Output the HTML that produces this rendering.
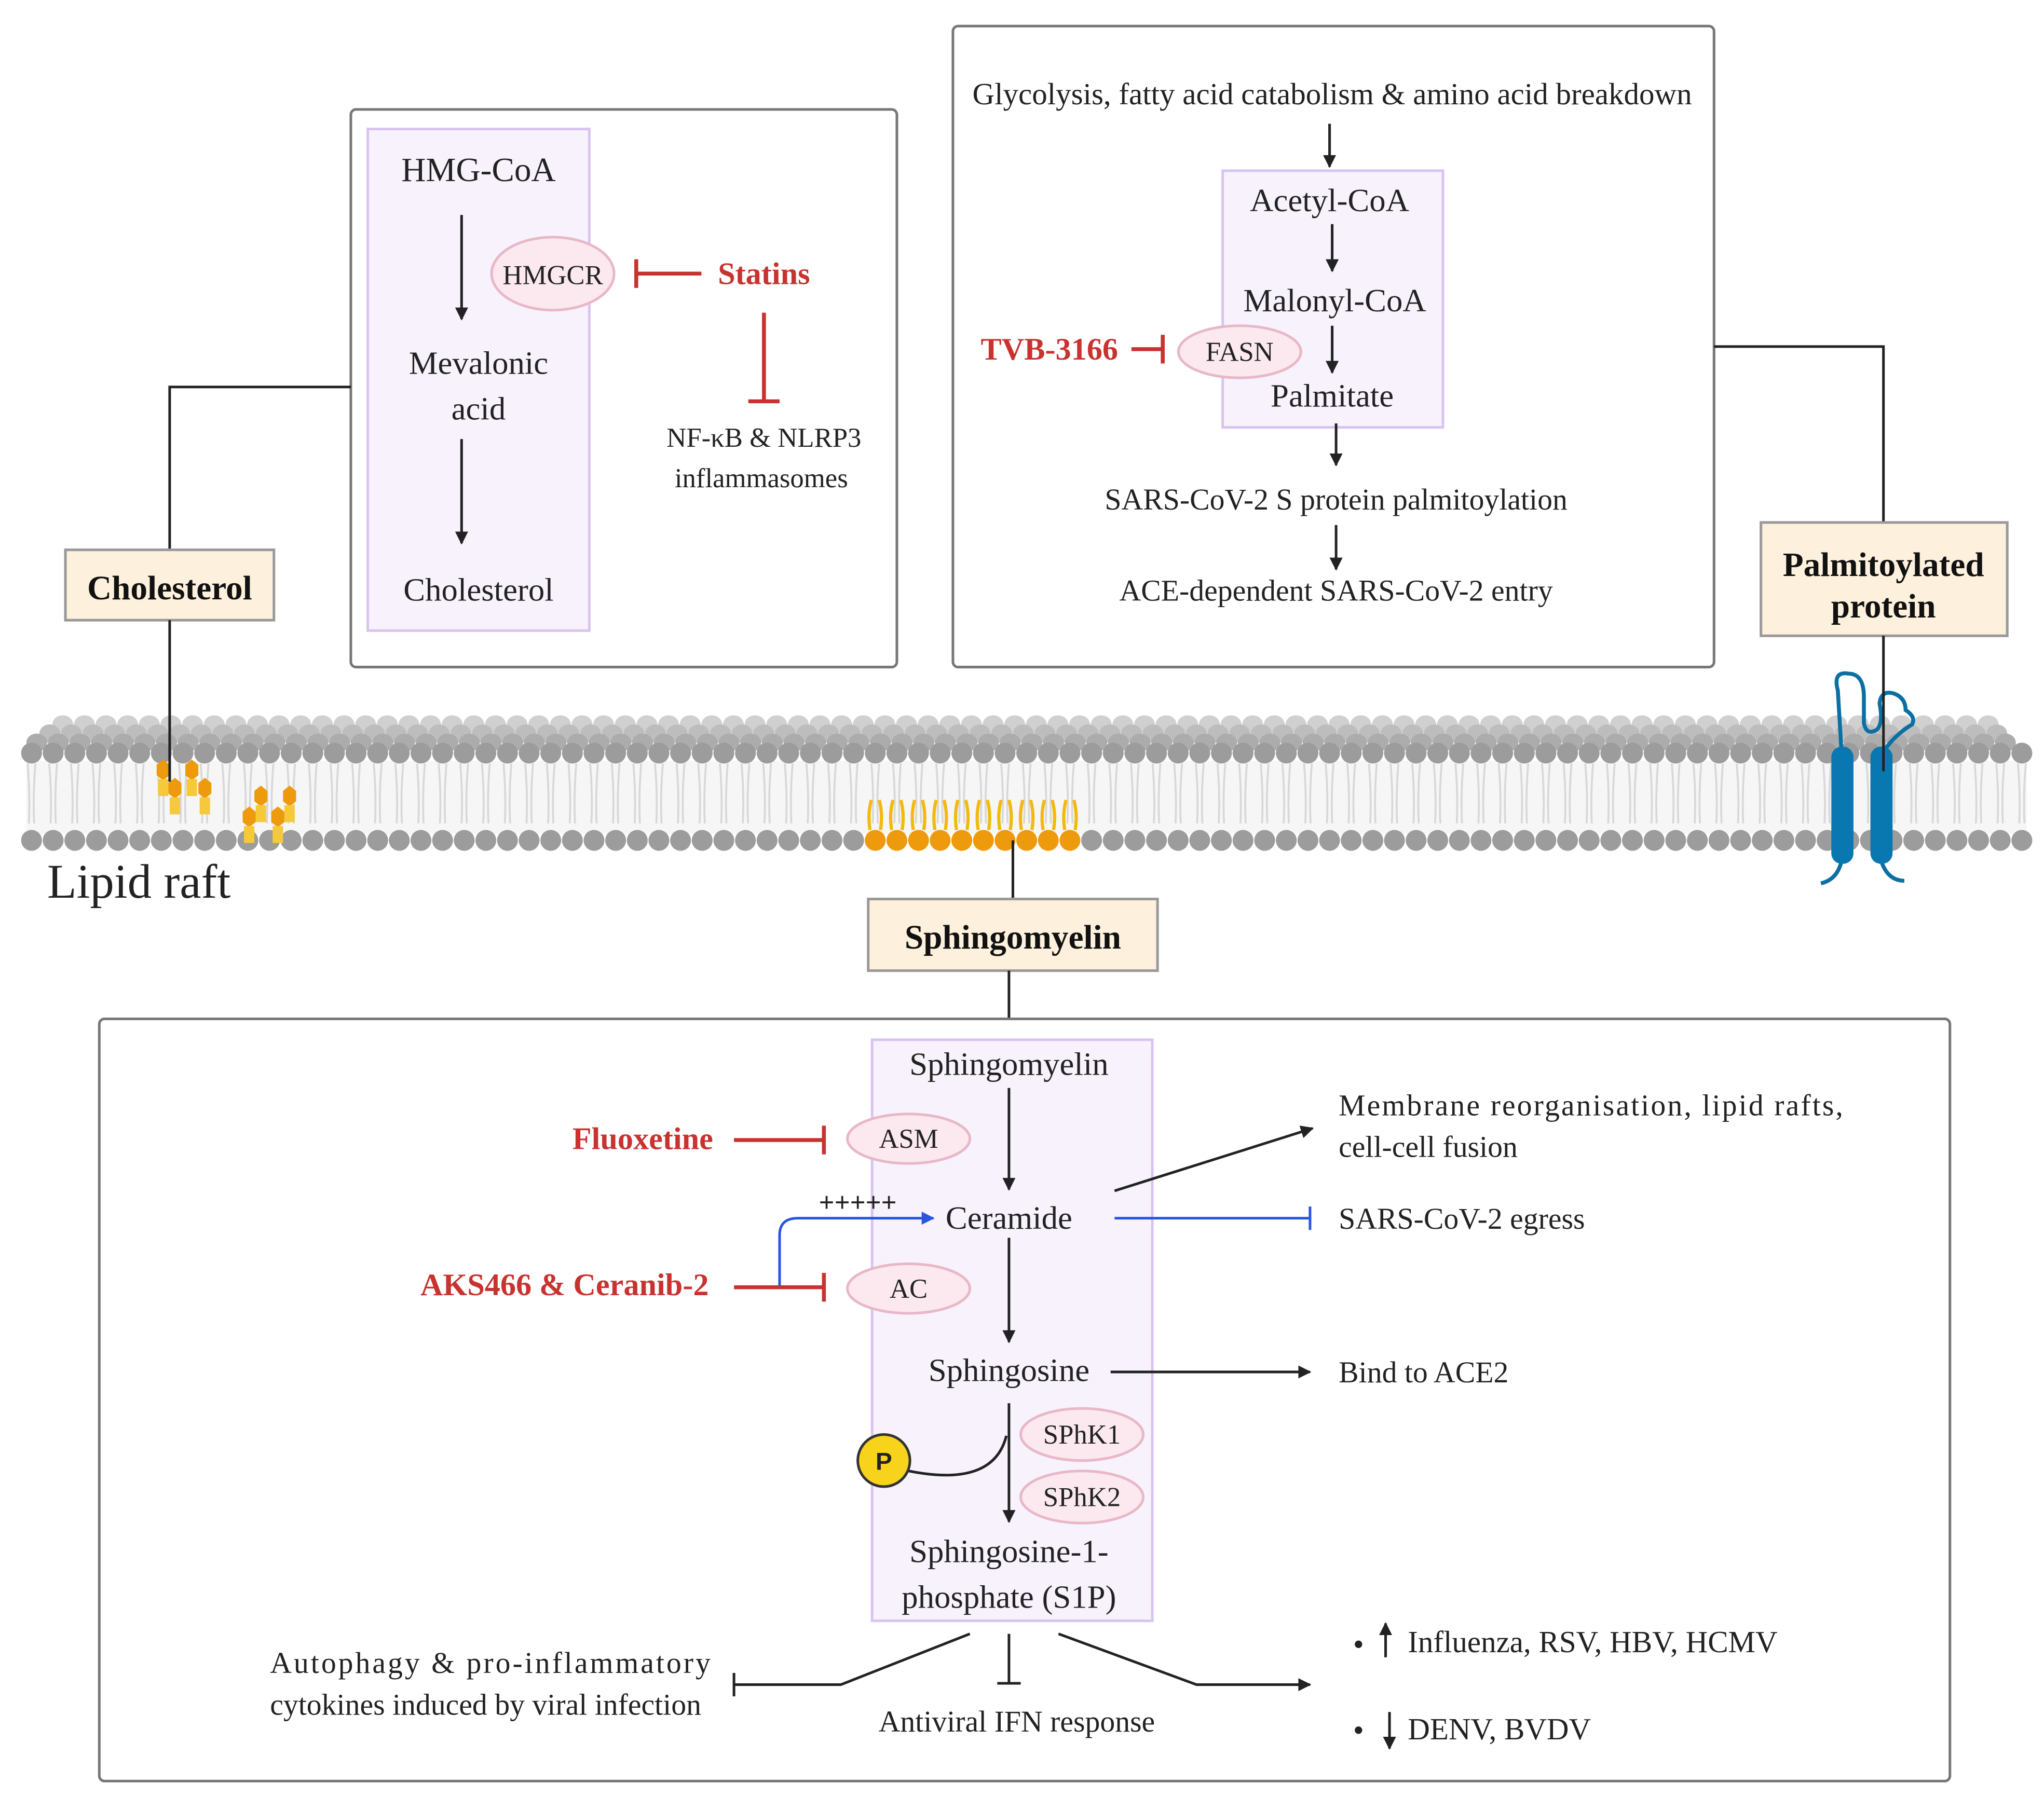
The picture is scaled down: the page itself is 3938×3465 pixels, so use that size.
<!DOCTYPE html>
<html><head><meta charset="utf-8"><style>
html,body{margin:0;padding:0;background:#fff}
svg{display:block}
text{font-family:"Liberation Serif",serif;fill:#222}
.c{text-anchor:middle}
.r{fill:#c8322f;font-weight:bold}
.b{font-weight:bold;fill:#111}
</style></head><body>
<svg id="s" width="3938" height="3465" viewBox="0 0 1568 1380" xmlns="http://www.w3.org/2000/svg">
<defs>
<marker id="a" markerWidth="10" markerHeight="10" refX="9" refY="5" orient="auto" markerUnits="userSpaceOnUse"><path d="M0,0 L10,5 L0,10 Z" fill="#222"/></marker>
<marker id="ab" markerWidth="10" markerHeight="10" refX="9" refY="5" orient="auto" markerUnits="userSpaceOnUse"><path d="M0,0 L10,5 L0,10 Z" fill="#2a55e0"/></marker>
</defs>
<g id="mem"></g>

<!-- Box 1 -->
<rect x="269" y="84" width="419" height="428" rx="4" fill="none" stroke="#777" stroke-width="2"/>
<rect x="282" y="99" width="170" height="385" fill="#f7f2fc" stroke="#d9c4f0" stroke-width="2"/>
<text x="367" y="139" class="c" font-size="26">HMG-CoA</text>
<line x1="354" y1="165" x2="354" y2="245" stroke="#222" stroke-width="2" marker-end="url(#a)"/>
<ellipse cx="424" cy="210" rx="47" ry="28" fill="#fbe9ef" stroke="#e8b7c8" stroke-width="2"/>
<text x="424" y="218" class="c" font-size="21">HMGCR</text>
<text x="367" y="287" class="c" font-size="25">Mevalonic</text>
<text x="367" y="322" class="c" font-size="25">acid</text>
<line x1="354" y1="337" x2="354" y2="417" stroke="#222" stroke-width="2" marker-end="url(#a)"/>
<text x="367" y="461" class="c" font-size="25">Cholesterol</text>
<line x1="538" y1="210" x2="488" y2="210" stroke="#c8322f" stroke-width="3"/>
<line x1="488" y1="199" x2="488" y2="221" stroke="#c8322f" stroke-width="3"/>
<text x="586" y="218" class="c r" font-size="24">Statins</text>
<line x1="586" y1="240" x2="586" y2="308" stroke="#c8322f" stroke-width="3"/>
<line x1="574" y1="308" x2="598" y2="308" stroke="#c8322f" stroke-width="3"/>
<text x="586" y="343" class="c" font-size="21">NF-κB &amp; NLRP3</text>
<text x="584" y="374" class="c" font-size="21">inflammasomes</text>

<polyline points="269,297 130,297 130,422" fill="none" stroke="#222" stroke-width="2"/>
<rect x="50" y="422" width="160" height="54" fill="#fdf0dc" stroke="#999" stroke-width="2"/>
<text x="130" y="460" class="c b" font-size="26">Cholesterol</text>
<line x1="130" y1="476" x2="130" y2="600" stroke="#222" stroke-width="2"/>

<!-- Box 2 -->
<rect x="731" y="20" width="584" height="492" rx="4" fill="none" stroke="#777" stroke-width="2"/>
<text x="1022" y="80" class="c" font-size="23.5">Glycolysis, fatty acid catabolism &amp; amino acid breakdown</text>
<line x1="1020" y1="95" x2="1020" y2="128" stroke="#222" stroke-width="2" marker-end="url(#a)"/>
<rect x="938" y="131" width="169" height="197" fill="#f7f2fc" stroke="#d9c4f0" stroke-width="2"/>
<text x="1020" y="162" class="c" font-size="25">Acetyl-CoA</text>
<line x1="1022" y1="172" x2="1022" y2="208" stroke="#222" stroke-width="2" marker-end="url(#a)"/>
<text x="1024" y="239" class="c" font-size="25">Malonyl-CoA</text>
<line x1="1022" y1="250" x2="1022" y2="286" stroke="#222" stroke-width="2" marker-end="url(#a)"/>
<ellipse cx="951" cy="270" rx="47" ry="20" fill="#fbe9ef" stroke="#e8b7c8" stroke-width="2"/>
<text x="951" y="277" class="c" font-size="21">FASN</text>
<text x="1022" y="312" class="c" font-size="25">Palmitate</text>
<text x="805" y="276" class="c r" font-size="24">TVB-3166</text>
<line x1="868" y1="268" x2="892" y2="268" stroke="#c8322f" stroke-width="3"/>
<line x1="892" y1="257" x2="892" y2="279" stroke="#c8322f" stroke-width="3"/>
<line x1="1025" y1="325" x2="1025" y2="357" stroke="#222" stroke-width="2" marker-end="url(#a)"/>
<text x="1025" y="391" class="c" font-size="23">SARS-CoV-2 S protein palmitoylation</text>
<line x1="1025" y1="403" x2="1025" y2="437" stroke="#222" stroke-width="2" marker-end="url(#a)"/>
<text x="1025" y="461" class="c" font-size="23">ACE-dependent SARS-CoV-2 entry</text>

<polyline points="1315,266 1445,266 1445,401" fill="none" stroke="#222" stroke-width="2"/>
<rect x="1351" y="401" width="189" height="87" fill="#fdf0dc" stroke="#999" stroke-width="2"/>
<text x="1445" y="442" class="c b" font-size="26">Palmitoylated</text>
<text x="1445" y="474" class="c b" font-size="26">protein</text>

<!-- protein -->
<g fill="none" stroke="#0a6fa3" stroke-width="3">
<path d="M1413,580 L1410,530 Q1406,515 1418,517 Q1430,517 1430,535 L1430,555 Q1432,565 1440,560 Q1445,555 1442,540 Q1443,530 1452,532 Q1462,535 1462,545 Q1470,550 1467,556 Q1452,565 1443,580"/>
<path d="M1413,660 Q1410,675 1397,678"/>
<path d="M1443,660 Q1448,676 1461,676"/>
</g>
<rect x="1405" y="573" width="17" height="90" rx="8" fill="#0a78b0"/>
<rect x="1435" y="573" width="17" height="90" rx="8" fill="#0a78b0"/>
<line x1="1445" y1="488" x2="1445" y2="592" stroke="#222" stroke-width="2"/>

<text x="36" y="689" font-size="37">Lipid raft</text>

<line x1="777" y1="645" x2="777" y2="690" stroke="#222" stroke-width="2"/>
<rect x="666" y="690" width="222" height="55" fill="#fdf0dc" stroke="#999" stroke-width="2"/>
<text x="777" y="728" class="c b" font-size="26">Sphingomyelin</text>
<line x1="774" y1="745" x2="774" y2="782" stroke="#222" stroke-width="2"/>

<!-- Box 3 -->
<rect x="76" y="782" width="1420" height="585" rx="4" fill="none" stroke="#777" stroke-width="2"/>
<rect x="669" y="798" width="215" height="446" fill="#f7f2fc" stroke="#d9c4f0" stroke-width="2"/>
<text x="774" y="825" class="c" font-size="25">Sphingomyelin</text>
<line x1="774" y1="835" x2="774" y2="913" stroke="#222" stroke-width="2" marker-end="url(#a)"/>
<ellipse cx="697" cy="874" rx="47" ry="19" fill="#fbe9ef" stroke="#e8b7c8" stroke-width="2"/>
<text x="697" y="881" class="c" font-size="21">ASM</text>
<text x="493" y="882" class="c r" font-size="24">Fluoxetine</text>
<line x1="563" y1="875" x2="632" y2="875" stroke="#c8322f" stroke-width="3"/>
<line x1="632" y1="864" x2="632" y2="886" stroke="#c8322f" stroke-width="3"/>
<text x="774" y="943" class="c" font-size="25">Ceramide</text>
<text x="658" y="930" class="c" font-size="21" font-weight="bold">+++++</text>
<path d="M598,988 L598,948 Q598,935 612,935 L716,935" fill="none" stroke="#2a55e0" stroke-width="2" marker-end="url(#ab)"/>
<text x="433" y="994" class="c r" font-size="24">AKS466 &amp; Ceranib-2</text>
<line x1="563" y1="988" x2="632" y2="988" stroke="#c8322f" stroke-width="3"/>
<line x1="632" y1="977" x2="632" y2="999" stroke="#c8322f" stroke-width="3"/>
<ellipse cx="697" cy="989" rx="47" ry="19" fill="#fbe9ef" stroke="#e8b7c8" stroke-width="2"/>
<text x="697" y="996" class="c" font-size="21">AC</text>
<line x1="774" y1="950" x2="774" y2="1030" stroke="#222" stroke-width="2" marker-end="url(#a)"/>
<text x="774" y="1060" class="c" font-size="25">Sphingosine</text>
<line x1="774" y1="1077" x2="774" y2="1168" stroke="#222" stroke-width="2" marker-end="url(#a)"/>
<ellipse cx="830" cy="1101" rx="47" ry="20" fill="#fbe9ef" stroke="#e8b7c8" stroke-width="2"/>
<text x="830" y="1108" class="c" font-size="21">SPhK1</text>
<ellipse cx="830" cy="1149" rx="47" ry="20" fill="#fbe9ef" stroke="#e8b7c8" stroke-width="2"/>
<text x="830" y="1156" class="c" font-size="21">SPhK2</text>
<path d="M697,1129 Q762,1142 772,1102" fill="none" stroke="#222" stroke-width="2"/>
<circle cx="678" cy="1121" r="20" fill="#f8d31c" stroke="#333" stroke-width="2"/>
<text x="678" y="1128" class="c" font-size="19" font-weight="bold" style="font-family:'Liberation Sans',sans-serif">P</text>
<text x="774" y="1199" class="c" font-size="25">Sphingosine-1-</text>
<text x="774" y="1234" class="c" font-size="25">phosphate (S1P)</text>

<line x1="855" y1="914" x2="1007" y2="866" stroke="#222" stroke-width="2" marker-end="url(#a)"/>
<text x="1027" y="856" font-size="23" textLength="387" lengthAdjust="spacing">Membrane reorganisation, lipid rafts,</text>
<text x="1027" y="888" font-size="23">cell-cell fusion</text>
<line x1="855" y1="935" x2="1005" y2="935" stroke="#2a55e0" stroke-width="2"/>
<line x1="1005" y1="926" x2="1005" y2="944" stroke="#2a55e0" stroke-width="2"/>
<text x="1027" y="943" font-size="23">SARS-CoV-2 egress</text>
<line x1="852" y1="1053" x2="1005" y2="1053" stroke="#222" stroke-width="2" marker-end="url(#a)"/>
<text x="1027" y="1061" font-size="23">Bind to ACE2</text>

<polyline points="744,1254 645,1293 563,1293" fill="none" stroke="#222" stroke-width="2"/>
<line x1="563" y1="1284" x2="563" y2="1302" stroke="#222" stroke-width="2"/>
<text x="207" y="1284" font-size="23" textLength="338" lengthAdjust="spacing">Autophagy &amp; pro-inflammatory</text>
<text x="207" y="1316" font-size="23">cytokines induced by viral infection</text>
<line x1="774" y1="1254" x2="774" y2="1292" stroke="#222" stroke-width="2"/>
<line x1="765" y1="1292" x2="783" y2="1292" stroke="#222" stroke-width="2"/>
<text x="780" y="1329" class="c" font-size="23">Antiviral  IFN response</text>
<polyline points="812,1254 918,1293 1005,1293" fill="none" stroke="#222" stroke-width="2" marker-end="url(#a)"/>
<text x="1038" y="1270" font-size="24">•</text>
<line x1="1063" y1="1272" x2="1063" y2="1246" stroke="#222" stroke-width="2" marker-end="url(#a)"/>
<text x="1080" y="1268" font-size="23.5">Influenza, RSV, HBV, HCMV</text>
<text x="1038" y="1336" font-size="24">•</text>
<line x1="1066" y1="1314" x2="1066" y2="1342" stroke="#222" stroke-width="2" marker-end="url(#a)"/>
<text x="1080" y="1335" font-size="23.5">DENV, BVDV</text>
</svg>
<script>
(function(){
var g=document.getElementById('mem'),h='';
h+='<rect x="20" y="584" width="1535" height="56" fill="#f6f6f6"/>';
var sp=16.6;
var rows=[[556,'#d0d0d0',48],[563,'#bdbdbd',38],[570,'#acacac',28]];
rows.forEach(function(r){for(var x=r[2];x<1540;x+=sp){h+='<ellipse cx="'+x+'" cy="'+r[0]+'" rx="8" ry="7" fill="'+r[1]+'"/>';}});
for(var x=24;x<1555;x+=sp){
 h+='<path d="M'+(x-3)+',586 Q'+(x-1)+',610 '+(x-2)+',632 M'+(x+3)+',586 Q'+(x+1)+',610 '+(x+2)+',632" stroke="#d8d8d8" stroke-width="1.5" fill="none"/>';
 h+='<ellipse cx="'+x+'" cy="578" rx="8" ry="8" fill="#9c9c9c"/>';
 var sm=(x>670&&x<825);
 if(sm){h+='<path d="M'+(x-4)+',637 Q'+(x-6)+',625 '+(x-3)+',614 M'+(x+4)+',637 Q'+(x+6)+',625 '+(x+3)+',614" stroke="#f2b90f" stroke-width="2.5" fill="none"/>';}
 h+='<ellipse cx="'+x+'" cy="645" rx="8" ry="8" fill="'+(sm?'#ee9a0d':'#9c9c9c')+'"/>';
}
[[125,592],[147,592],[134,606],[157,606],[200,612],[222,612],[191,628],[213,628]].forEach(function(p){
 h+='<polygon points="'+(p[0]-5)+','+(p[1]-5)+' '+p[0]+','+(p[1]-9)+' '+(p[0]+5)+','+(p[1]-5)+' '+(p[0]+5)+','+(p[1]+3)+' '+p[0]+','+(p[1]+7)+' '+(p[0]-5)+','+(p[1]+3)+'" fill="#ee9a0d"/>';
 h+='<rect x="'+(p[0]-4)+'" y="'+(p[1]+6)+'" width="8" height="13" fill="#f6c93a"/>';
});
g.innerHTML=h;
})();
</script>
</body></html>
